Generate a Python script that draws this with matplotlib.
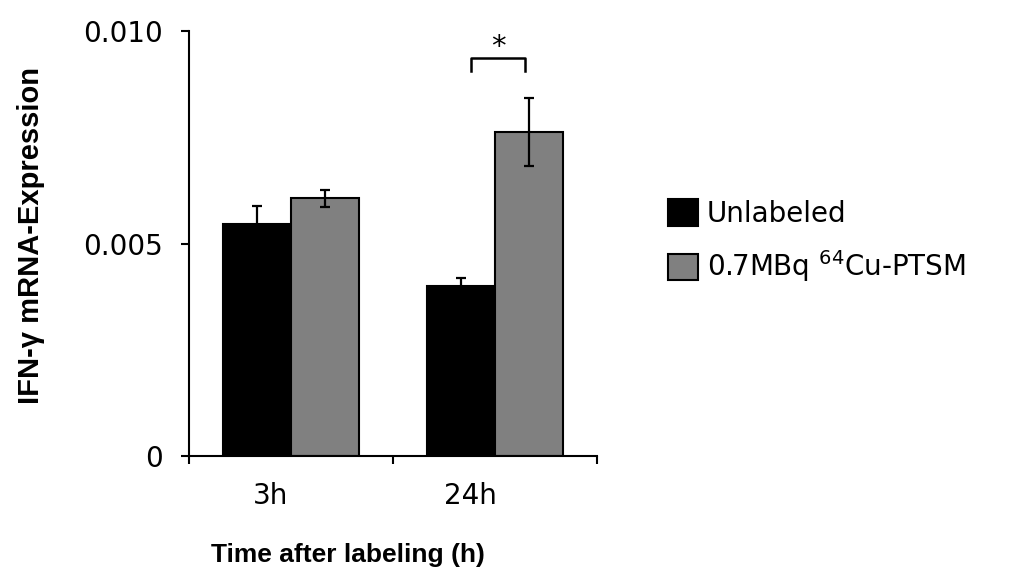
import matplotlib
matplotlib.use("Agg")
import matplotlib.pyplot as plt
import numpy as np

plt.rcParams['font.family'] = ['DejaVu Sans']
plt.rcParams['mathtext.fontset'] = 'dejavusans'

# data
categories = ["3h", "24h"]
unlabeled = [0.00545, 0.00400]
unlabeled_err = [0.00043, 0.00020]
labeled = [0.00606, 0.00762]
labeled_err = [0.00020, 0.00080]
series_names = ["Unlabeled", "0.7MBq $^{64}$Cu-PTSM"]

fig = plt.figure(figsize=(10.17, 5.84), dpi=100)
ax = fig.add_axes([0.186, 0.219, 0.401, 0.728])

x = np.arange(len(categories))
w = 0.335
err_kw = dict(ecolor="black", elinewidth=1.6, capsize=3.8, capthick=1.6)
ax.bar(x - w / 2, unlabeled, w, yerr=unlabeled_err, color="black",
       edgecolor="black", linewidth=1.5, label=series_names[0], error_kw=err_kw)
ax.bar(x + w / 2, labeled, w, yerr=labeled_err, color="#808080",
       edgecolor="black", linewidth=1.5, label=series_names[1], error_kw=err_kw)

# significance bracket over 24h
bx0, bx1 = 1 - w / 2 + 0.05, 1 + w / 2 - 0.02
ax.plot([bx0, bx0, bx1, bx1], [0.00905, 0.00936, 0.00936, 0.00905],
        color="black", lw=1.8, clip_on=False)
ax.text((bx0 + bx1) / 2, 0.00930, "*", ha="center", va="bottom", fontsize=21)

ax.set_xlim(-0.5, 1.5)
ax.set_ylim(0, 0.010)
ax.set_yticks([0, 0.005, 0.010])
ax.set_yticklabels(["0", "0.005", "0.010"], fontsize=20)
ax.set_xticks([-0.5, 0.5, 1.5], minor=True)
ax.set_xticks([-0.1, 0.88])
ax.set_xticklabels(categories, fontsize=20)
ax.tick_params(axis="x", which="major", length=0, pad=19)
ax.tick_params(axis="x", which="minor", length=6, width=1.5, direction="out")
ax.tick_params(axis="y", length=6, width=1.5, direction="out", pad=13)

for s in ["top", "right"]:
    ax.spines[s].set_visible(False)
for s in ["left", "bottom"]:
    ax.spines[s].set_linewidth(1.5)

fig.text(348 / 1017, 1 - 555 / 584, "Time after labeling (h)", ha="center",
         va="center", fontsize=19, fontweight="bold", family="Liberation Sans")
fig.text(31 / 1017, 1 - 235 / 584, "IFN-γ mRNA-Expression", ha="center",
         va="center", rotation=90, fontsize=21, fontweight="bold",
         family="Liberation Sans")

ax.legend(loc="upper left", bbox_to_anchor=(654 / 1017, 1 - 185 / 584),
          bbox_transform=fig.transFigure, frameon=False, borderpad=0,
          fontsize=20, handlelength=1.1, handleheight=1.1, handletextpad=0.3,
          labelspacing=0.75)

fig.savefig("out.png", dpi=100)
